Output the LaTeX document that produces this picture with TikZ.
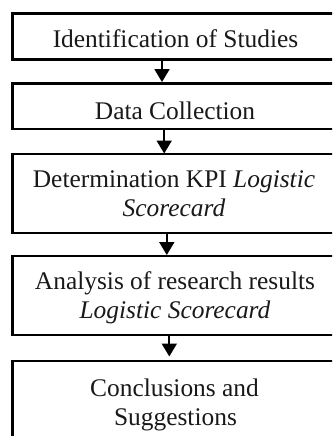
\documentclass[tikz,border=0pt]{standalone}
\usepackage{fontspec}
\setmainfont{Liberation Serif}
\usetikzlibrary{arrows.meta}
\tikzset{
  stepbox/.style={draw=black, line width=2.2pt, rectangle, inner sep=0pt, outer sep=0pt, minimum width=327.5pt},
  lbl/.style={inner sep=0pt, outer sep=0pt, anchor=base, font=\fontsize{25.4}{29.2}\selectfont, text=black!90},
  arr/.style={draw=black, line width=1.9pt, -{Triangle[length=13pt,width=15pt]}}
}
\begin{document}
\begin{tikzpicture}[x=1pt,y=-1pt]
\useasboundingbox (0,0) rectangle (332,436);
\fill[white] (0,0) rectangle (332,436);
\clip (0,0) rectangle (332,436);
% boxes
\node[stepbox, minimum height=46pt]   (b1) at (176.25,36.5) {};
\node[stepbox, minimum height=45.5pt] (b2) at (176.25,106.25) {};
\node[stepbox, minimum height=79.5pt] (b3) at (176.25,193.5) {};
\node[stepbox, minimum height=79.5pt] (b4) at (176.25,295.4) {};
\node[stepbox, minimum height=110pt]  (b5) at (176.25,416) {};
% texts
\node[lbl] (t1)  at (175.5,47.7)  {Identification of Studies};
\node[lbl] (t2)  at (175,119)     {Data Collection};
\node[lbl] (t3a) at (174,187.5)   {Determination KPI \textit{Logistic}};
\node[lbl] (t3b) at (174,216.5)   {\textit{Scorecard}};
\node[lbl] (t4a) at (175,289)     {Analysis of research results};
\node[lbl] (t4b) at (175,318)     {\textit{Logistic Scorecard}};
\node[lbl] (t5a) at (174.5,396)   {Conclusions and};
\node[lbl] (t5b) at (175.5,425)   {Suggestions};
% arrows
\coordinate (e1) at (162,82);
\coordinate (e2) at (164.2,153.5);
\coordinate (e3) at (166.8,255);
\coordinate (e4) at (169.3,356.5);
\draw[arr] (e1 |- b1.south) -- (e1);
\draw[arr] (e2 |- b2.south) -- (e2);
\draw[arr] (e3 |- b3.south) -- (e3);
\draw[arr] (e4 |- b4.south) -- (e4);
\end{tikzpicture}
\end{document}
